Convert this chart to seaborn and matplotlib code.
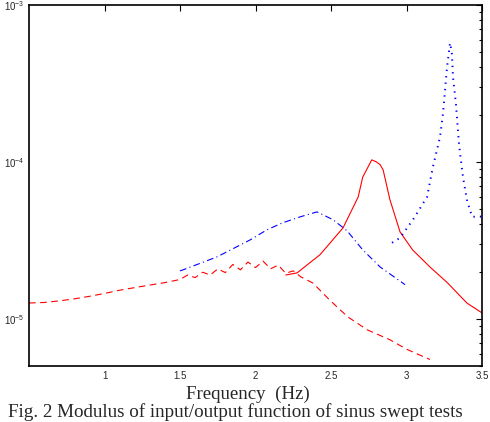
import numpy as np
import pandas as pd
import seaborn as sns
import matplotlib.pyplot as plt

# input (red dashed, noisy)
f_in = [0.5, 0.6, 0.7, 0.8, 0.9, 1.0, 1.1, 1.2, 1.3, 1.4, 1.5, 1.55, 1.6, 1.65, 1.7,
        1.75, 1.8, 1.85, 1.9, 1.95, 2.0, 2.05, 2.1, 2.15, 2.2, 2.25, 2.3, 2.38, 2.49,
        2.61, 2.74, 2.89, 3.0, 3.155]
m_in = [1.26, 1.27, 1.3, 1.34, 1.39, 1.45, 1.52, 1.58, 1.64, 1.7, 1.78, 1.9, 1.83, 1.98,
        1.9, 2.08, 1.97, 2.22, 2.05, 2.3, 2.12, 2.33, 2.08, 2.2, 1.95, 2.02, 1.85, 1.69,
        1.32, 1.03, 0.85, 0.735, 0.64, 0.55]

# output 1 (red solid)
f_out1 = [2.2, 2.275, 2.427, 2.58, 2.68, 2.71, 2.77, 2.8, 2.825, 2.845, 2.89, 2.957,
          3.04, 3.155, 3.27, 3.40, 3.5]
m_out1 = [1.9, 1.96, 2.56, 3.8, 5.98, 8.0, 10.3, 10.0, 9.6, 8.9, 5.75, 3.58,
          2.75, 2.14, 1.7, 1.26, 1.09]

# output 2 (blue dash-dot)
f_out2 = [1.5, 1.52, 1.745, 1.964, 2.076, 2.18, 2.295, 2.407, 2.513, 2.606, 2.71, 2.825, 2.99]
m_out2 = [2.02, 2.05, 2.48, 3.18, 3.69, 4.09, 4.46, 4.8, 4.28, 3.64, 2.75, 2.14, 1.65]

# output 3 (blue dotted)
f_out3 = [2.904, 2.957, 3.043, 3.136, 3.175, 3.222, 3.242, 3.268, 3.288, 3.30, 3.308,
          3.328, 3.348, 3.374, 3.40, 3.434, 3.487, 3.5]
m_out3 = [3.05, 3.28, 4.28, 5.98, 9.3, 14.4, 20.5, 39.8, 57.3, 50.0, 34.7,
          23.0, 12.8, 8.0, 5.73, 4.47, 4.47, 4.5]

sns.set_style("white")
plt.rcParams['font.family'] = ['Liberation Sans', 'DejaVu Sans']
plt.rcParams['mathtext.fontset'] = 'custom'
plt.rcParams['mathtext.rm'] = 'Liberation Sans'

fig = plt.figure(figsize=(4.9, 4.22), dpi=100)
ax = fig.add_axes([0.0592, 0.1327, 0.9245, 0.8555])

sc = 1e-5
sns.lineplot(x=f_in, y=np.array(m_in) * sc, ax=ax, color='#ff0000', lw=0.8,
             linestyle=(0, (6, 4)), sort=False, estimator=None)
sns.lineplot(x=f_out1, y=np.array(m_out1) * sc, ax=ax, color='#ff0000', lw=0.8,
             sort=False, estimator=None)
sns.lineplot(x=f_out2, y=np.array(m_out2) * sc, ax=ax, color='#0000ff', lw=0.8,
             linestyle=(0, (6, 3, 1, 3)), sort=False, estimator=None)
sns.lineplot(x=f_out3, y=np.array(m_out3) * sc, ax=ax, color='#0000ff', lw=1.4,
             linestyle=(0, (0.7, 2.6)), sort=False, estimator=None)

ax.set_yscale('log')
ax.set_xlim(0.5, 3.5)
ax.set_ylim(5e-6, 1e-3)
ax.set_xticks([1, 1.5, 2, 2.5, 3, 3.5])
ax.set_xticklabels(['1', '1.5', '2', '2.5', '3', '3.5'])
ax.tick_params(which='both', direction='in', top=True, right=True, labelsize=7,
               color='black', width=0.8)
ax.tick_params(which='major', length=4)
ax.tick_params(which='minor', length=2)
for s in ax.spines.values():
    s.set_color('black')
    s.set_linewidth(1.2)

ax.set_xlabel('')
fig.text(0.505, 0.055, 'Frequency  (Hz)', ha='center', va='baseline',
         family=['Liberation Serif'], fontsize=13.6)
fig.text(0.016, 0.012, 'Fig. 2 Modulus of input/output function of sinus swept tests',
         ha='left', va='baseline', family=['Liberation Serif'], fontsize=13.7)

fig.savefig('out.png', dpi=100)
